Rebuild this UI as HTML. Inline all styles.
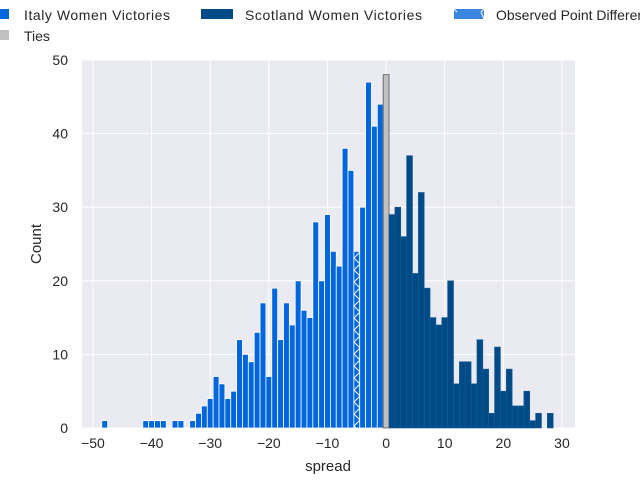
<!DOCTYPE html>
<html><head><meta charset="utf-8"><style>
body{margin:0;background:#fff;}
svg{display:block;font-family:"Liberation Sans",Arial,sans-serif;}
</style></head><body>
<svg id="chart" width="640" height="480" viewBox="0 0 640 480">
<defs>
<pattern id="hatch" patternUnits="userSpaceOnUse" width="6" height="12">
<rect width="6" height="12" fill="#0066dd"/>
<path d="M6,0 L0,6 L6,12" stroke="#ffffff" stroke-width="1" fill="none"/>
</pattern>
</defs>
<rect x="82" y="60" width="493" height="368" fill="#eaeaf2"/>
<g id="grid"></g>
<g id="bars"></g>
<g id="axes"></g>
<g font-size="14" fill="#262626">
<rect x="-5" y="9" width="14" height="10" fill="#0066dd"/>
<text x="24" y="20" textLength="146">Italy Women Victories</text>
<rect x="201" y="9" width="32" height="10" fill="#004b87"/>
<text x="245" y="20" textLength="177">Scotland Women Victories</text>
<rect x="454" y="9" width="30" height="10" fill="#3a86e0"/>
<path d="M454,9 l3,3 M484,9 l-3,3 M481,12 l3,7" stroke="#fff" stroke-width="1"/>
<text x="496" y="20">Observed Point Difference</text>
<rect x="-5" y="30" width="14" height="10" fill="#c0c0c0"/>
<text x="24" y="41">Ties</text>
</g>
</svg>
<script>
const spreads = [-48,-41,-40,-39,-38,-36,-35,-33,-32,-31,-30,-29,-28,-27,-26,-25,-24,-23,-22,-21,-20,-19,-18,-17,-16,-15,-14,-13,-12,-11,-10,-9,-8,-7,-6,-5,-4,-3,-2,-1,0,1,2,3,4,5,6,7,8,9,10,11,12,13,14,15,16,17,18,19,20,21,22,23,24,25,26,28];
const counts = [1,1,1,1,1,1,1,1,2,3,4,7,6,4,5,12,10,9,13,17,7,19,12,17,14,20,16,15,28,20,29,24,22,38,35,24,30,47,41,44,48,29,30,26,37,21,32,19,15,14,15,20,6,9,9,6,12,8,2,11,5,8,3,3,5,1,2,2];
const observed = [-5];
const xTicks = [-50,-40,-30,-20,-10,0,10,20,30];
const yTicks = [0,10,20,30,40,50];
const NS="http://www.w3.org/2000/svg";
function xS(v){return 386.1+v*5.8625;}
function yS(v){return 428-v*7.36;}
const grid=document.getElementById('grid'),bars=document.getElementById('bars'),axes=document.getElementById('axes');
function mk(tag,attrs,parent){const e=document.createElementNS(NS,tag);for(const k in attrs)e.setAttribute(k,attrs[k]);parent.appendChild(e);return e;}
xTicks.forEach(t=>{
  const l=mk('line',{x1:xS(t),x2:xS(t),y1:60,y2:428,stroke:'#fff','stroke-width':1},grid);
  
  
  const tx=mk('text',{x:xS(t),y:448,'text-anchor':'middle','font-size':14,fill:'#262626'},axes);
  tx.textContent=(t<0?'\u2212'+(-t):t);
  
  
});
yTicks.forEach(t=>{
  const l=mk('line',{x1:82,x2:575,y1:yS(t),y2:yS(t),stroke:'#fff','stroke-width':1},grid);
  
  
  const tx=mk('text',{x:68,y:yS(t)+5,'text-anchor':'end','font-size':14,fill:'#262626'},axes);
  tx.textContent=t;
  
  
});
const w=5.8625;
spreads.forEach((s,i)=>{
  const c=counts[i];
  let fill,stroke,sw;
  if(observed.includes(s)){fill='url(#hatch)';stroke='#ffffff';sw=0.8;}
  else if(s<0){fill='#0066dd';stroke='#ffffff';sw=0.8;}
  else if(s===0){fill='#c0c0c0';stroke='#555555';sw=0.8;}
  else{fill='#004b87';stroke='#1a5d94';sw=0.6;}
  const r=mk('rect',{x:xS(s)-w/2,y:yS(c),width:w,height:yS(0)-yS(c),fill:fill,stroke:stroke,'stroke-width':sw},bars);
  
  
});
const xl=mk('text',{x:328,y:471,'text-anchor':'middle','font-size':15,fill:'#262626'},axes);
xl.textContent='spread';


const yl=mk('text',{x:41,y:244,'text-anchor':'middle','font-size':15,fill:'#262626',transform:'rotate(-90 41 244)'},axes);
yl.textContent='Count';


</script>
</body></html>
